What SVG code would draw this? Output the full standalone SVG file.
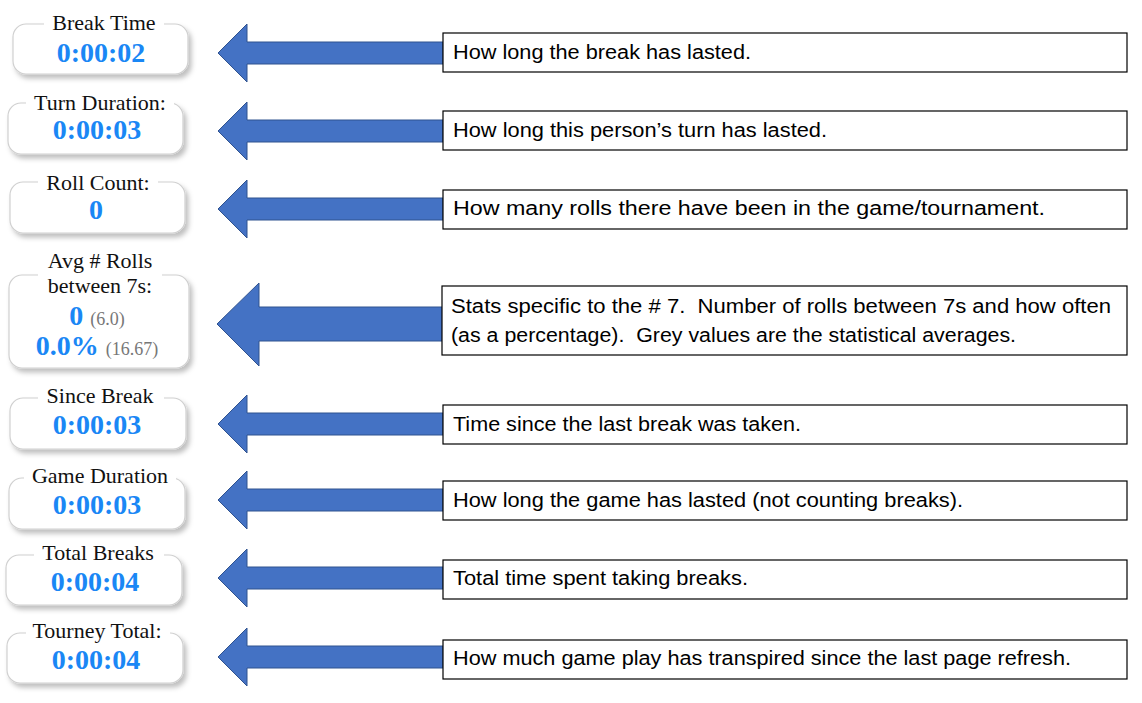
<svg xmlns="http://www.w3.org/2000/svg" width="1142" height="703" viewBox="0 0 1142 703">
<style>
.wbox{fill:#fff;stroke:#d0d0d0;stroke-width:1.2;filter:url(#sh)}
.gap{fill:#fff}
.lbl{font-family:"Liberation Serif",serif;font-size:22px;fill:#111;text-anchor:middle}
.val{font-family:"Liberation Serif",serif;font-size:28px;font-weight:bold;fill:#1a87f5;text-anchor:middle}
.grey{font-family:"Liberation Serif",serif;font-size:18px;fill:#777;font-weight:normal}
.arrow{fill:#4472c4;stroke:#2f528f;stroke-width:1}
.note{fill:#fff;stroke:#000;stroke-width:1.2}
.nt{font-family:"Liberation Sans",Arial,sans-serif;font-size:20px;fill:#000;white-space:pre}
</style>
<defs>
<filter id="sh" x="-10%" y="-10%" width="130%" height="140%">
<feDropShadow dx="3" dy="4" stdDeviation="2.5" flood-color="#000" flood-opacity="0.25"/>
</filter>
</defs>
<rect width="1142" height="703" fill="#fff"/>

<g id="w1"><rect class="wbox" x="13" y="24" width="175" height="50" rx="13"/><rect class="gap" x="44" y="18" width="120" height="12"/><text class="lbl" x="104" y="30">Break Time</text><text class="val" x="101" y="62">0:00:02</text></g>
<g id="w2"><rect class="wbox" x="8" y="103" width="175" height="51" rx="13"/><rect class="gap" x="26" y="96" width="148" height="12"/><text class="lbl" x="100" y="110">Turn Duration:</text><text class="val" x="97" y="139">0:00:03</text></g>
<g id="w3"><rect class="wbox" x="10" y="182" width="175" height="51" rx="13"/><rect class="gap" x="38" y="176" width="120" height="12"/><text class="lbl" x="98" y="190">Roll Count:</text><text class="val" x="96" y="219">0</text></g>
<g id="w4"><rect class="wbox" x="9" y="275" width="180" height="93" rx="13"/><rect class="gap" x="38" y="262" width="124" height="40"/><text class="lbl" x="100" y="268">Avg # Rolls</text><text class="lbl" x="100" y="293">between 7s:</text><text class="val" x="97" y="325">0 <tspan class="grey">(6.0)</tspan></text><text class="val" x="97" y="355">0.0% <tspan class="grey">(16.67)</tspan></text></g>
<g id="w5"><rect class="wbox" x="10" y="398" width="176" height="51" rx="13"/><rect class="gap" x="38" y="392" width="126" height="12"/><text class="lbl" x="100" y="403">Since Break</text><text class="val" x="97" y="434">0:00:03</text></g>
<g id="w6"><rect class="wbox" x="9" y="478" width="176" height="51" rx="13"/><rect class="gap" x="24" y="472" width="152" height="12"/><text class="lbl" x="100" y="483">Game Duration</text><text class="val" x="97" y="514">0:00:03</text></g>
<g id="w7"><rect class="wbox" x="6" y="555" width="176" height="50" rx="13"/><rect class="gap" x="34" y="549" width="130" height="12"/><text class="lbl" x="98" y="560">Total Breaks</text><text class="val" x="95" y="591">0:00:04</text></g>
<g id="w8"><rect class="wbox" x="7" y="633" width="176" height="50" rx="13"/><rect class="gap" x="26" y="627" width="144" height="12"/><text class="lbl" x="97" y="638">Tourney Total:</text><text class="val" x="96" y="669">0:00:04</text></g>

<g id="connectors">
<path class="arrow" d="M218,53 L247,24 L247,42 L443,42 L443,64 L247,64 L247,82 Z"/>
<path class="arrow" d="M218,131 L247,102 L247,120 L443,120 L443,142 L247,142 L247,160 Z"/>
<path class="arrow" d="M218,209 L247,180 L247,198 L443,198 L443,220 L247,220 L247,238 Z"/>
<path class="arrow" d="M217,324 L259,283 L259,307 L443,307 L443,341 L259,341 L259,366 Z"/>
<path class="arrow" d="M218,424 L247,395 L247,413 L443,413 L443,435 L247,435 L247,453 Z"/>
<path class="arrow" d="M218,500 L247,471 L247,489 L443,489 L443,511 L247,511 L247,529 Z"/>
<path class="arrow" d="M218,578 L247,549 L247,567 L443,567 L443,589 L247,589 L247,607 Z"/>
<path class="arrow" d="M218,657 L247,628 L247,646 L443,646 L443,668 L247,668 L247,686 Z"/>
</g>

<g id="n1"><rect class="note" x="443" y="33" width="684" height="39"/><text class="nt" x="453" y="59" textLength="298" lengthAdjust="spacingAndGlyphs">How long the break has lasted.</text></g>
<g id="n2"><rect class="note" x="443" y="111" width="684" height="39"/><text class="nt" x="453" y="137" textLength="374" lengthAdjust="spacingAndGlyphs">How long this person’s turn has lasted.</text></g>
<g id="n3"><rect class="note" x="443" y="190" width="684" height="39"/><text class="nt" x="453" y="215" textLength="592" lengthAdjust="spacingAndGlyphs">How many rolls there have been in the game/tournament.</text></g>
<g id="n4"><rect class="note" x="442" y="286" width="685" height="69"/><text class="nt" x="451" y="313" textLength="660" lengthAdjust="spacingAndGlyphs">Stats specific to the # 7.  Number of rolls between 7s and how often</text><text class="nt" x="451" y="342" textLength="565" lengthAdjust="spacingAndGlyphs">(as a percentage).  Grey values are the statistical averages.</text></g>
<g id="n5"><rect class="note" x="443" y="405" width="684" height="39"/><text class="nt" x="453" y="431" textLength="348" lengthAdjust="spacingAndGlyphs">Time since the last break was taken.</text></g>
<g id="n6"><rect class="note" x="443" y="481" width="684" height="39"/><text class="nt" x="453" y="507" textLength="510" lengthAdjust="spacingAndGlyphs">How long the game has lasted (not counting breaks).</text></g>
<g id="n7"><rect class="note" x="443" y="560" width="684" height="39"/><text class="nt" x="453" y="585" textLength="295" lengthAdjust="spacingAndGlyphs">Total time spent taking breaks.</text></g>
<g id="n8"><rect class="note" x="443" y="640" width="684" height="39"/><text class="nt" x="453" y="665" textLength="618" lengthAdjust="spacingAndGlyphs">How much game play has transpired since the last page refresh.</text></g>
</svg>
